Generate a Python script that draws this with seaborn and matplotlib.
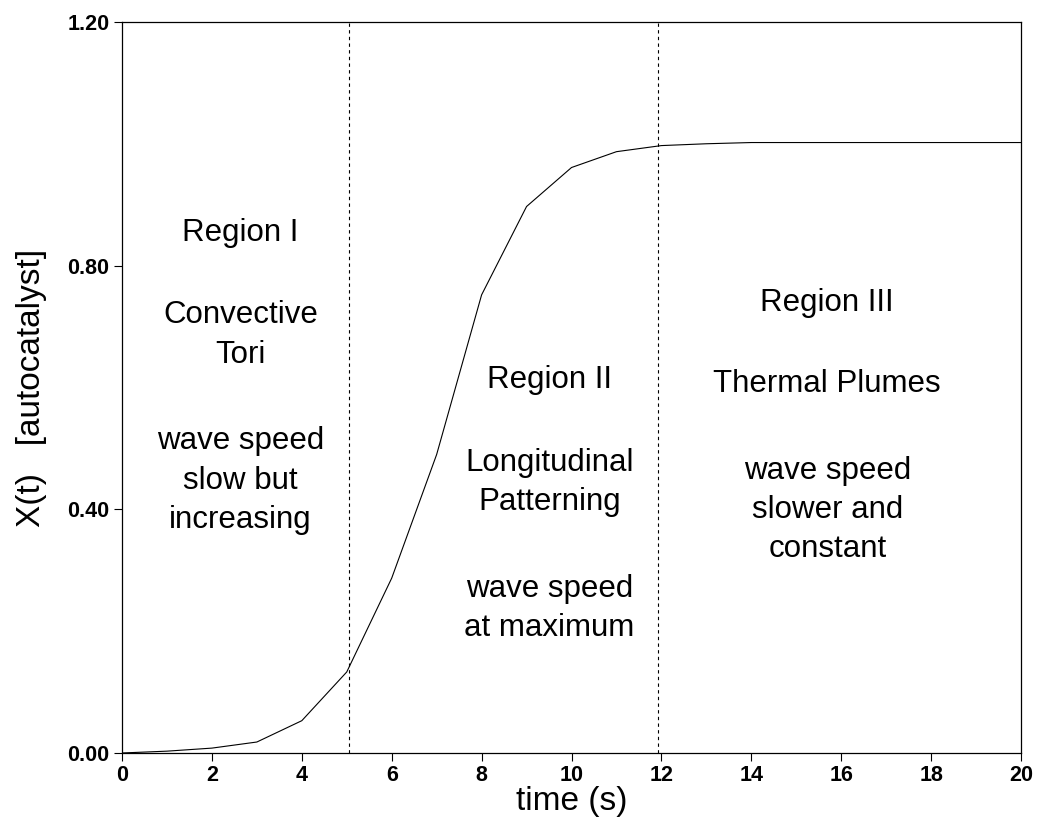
import pandas as pd
import matplotlib.pyplot as plt
import seaborn as sns

sns.set_theme(style="ticks")
plt.rcParams['font.family'] = ['Liberation Sans', 'DejaVu Sans']
plt.rcParams['text.color'] = 'black'
plt.rcParams['axes.labelcolor'] = 'black'
plt.rcParams['xtick.color'] = 'black'
plt.rcParams['ytick.color'] = 'black'

# curve, one point per second
time_s = [0, 1, 2, 3, 4, 5, 6, 7, 8, 9, 10, 11, 12, 13, 14, 15, 16, 17, 18, 19, 20]
x_auto = [0.0, 0.003, 0.008, 0.018, 0.053, 0.133, 0.287, 0.49, 0.752, 0.897, 0.961,
          0.987, 0.997, 1.0, 1.002, 1.002, 1.002, 1.002, 1.002, 1.002, 1.002]
region_edges = [5.05, 11.92]

region_text = [
    (2.64, 0.854, "Region I"),
    (2.64, 0.686, "Convective\nTori"),
    (2.64, 0.447, "wave speed\nslow but\nincreasing"),
    (9.51, 0.612, "Region II"),
    (9.51, 0.444, "Longitudinal\nPatterning"),
    (9.51, 0.237, "wave speed\nat maximum"),
    (15.69, 0.738, "Region III"),
    (15.69, 0.605, "Thermal Plumes"),
    (15.69, 0.399, "wave speed\nslower and\nconstant"),
]

df = pd.DataFrame({"time": time_s, "X": x_auto})

fig = plt.figure(figsize=(10.41, 8.27), dpi=100)
ax = fig.add_axes([0.1172, 0.0895, 0.8636, 0.884])

sns.lineplot(x="time", y="X", data=df, ax=ax, color="black", linewidth=0.8)
for xe in region_edges:
    ax.axvline(xe, color="black", linewidth=0.8, linestyle=(0, (3, 3)))

for tx, ty, s in region_text:
    ax.text(tx, ty, s, ha="center", va="center", fontsize=22.5, linespacing=1.4,
            color="black")

ax.set_xlim(0, 20)
ax.set_ylim(0, 1.2)
ax.set_xticks(range(0, 21, 2))
ax.set_yticks([0, 0.4, 0.8, 1.2])
ax.set_yticklabels(["0.00", "0.40", "0.80", "1.20"])
ax.tick_params(direction="out", length=6, width=0.8, labelsize=15.5, pad=3)
ax.tick_params(axis="x", pad=3)
for lab in ax.get_xticklabels() + ax.get_yticklabels():
    lab.set_fontweight("bold")
for sp in ax.spines.values():
    sp.set_linewidth(0.9)
    sp.set_color("black")

ax.set_xlabel("time (s)", fontsize=24, labelpad=0)
ax.set_ylabel("X(t)   [autocatalyst]", fontsize=24)
ax.yaxis.set_label_coords(-0.083, 0.5)

fig.savefig("out.png", dpi=100)
